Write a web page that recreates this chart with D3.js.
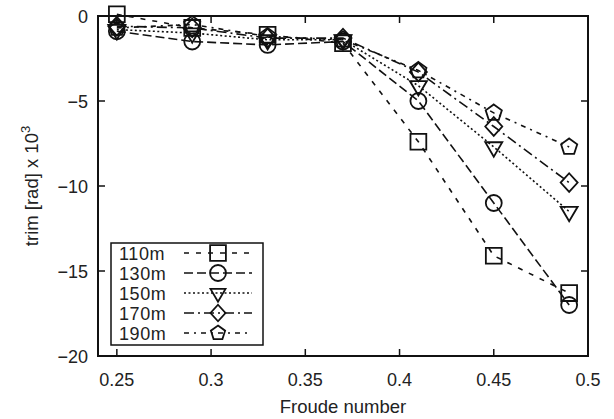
<!DOCTYPE html>
<html>
<head>
<meta charset="utf-8">
<script src="https://cdn.jsdelivr.net/npm/d3@7"></script>
<style>
body{margin:0;background:#fff;}
svg text{font-family:"Liberation Sans",Arial,sans-serif;fill:#222;}
</style>
</head>
<body>
<svg id="chart" width="614" height="419"></svg>
<script>
// Froude numbers and trim values (rad x 10^3) per ship length
const froude = [0.25, 0.29, 0.33, 0.37, 0.41, 0.45, 0.49];
const names = ["110m", "130m", "150m", "170m", "190m"];
const trim110 = [0.1, -0.7, -1.1, -1.6, -7.4, -14.1, -16.3];
const trim130 = [-0.9, -1.5, -1.7, -1.5, -5.0, -11.0, -17.0];
const trim150 = [-0.8, -1.0, -1.4, -1.4, -4.1, -7.7, -11.5];
const trim170 = [-0.6, -0.7, -1.3, -1.3, -3.3, -6.5, -9.8];
const trim190 = [-0.7, -0.5, -1.2, -1.4, -3.2, -5.7, -7.7];
const xTicks = [0.25, 0.3, 0.35, 0.4, 0.45, 0.5];
const yTicks = [0, -5, -10, -15, -20];

const series = [trim110, trim130, trim150, trim170, trim190];
const dashes = ["5,7", "9,4", "2,2.5", "10,4,2,4", "5,5,2,5"];

const m = {left: 98, right: 588, top: 16, bottom: 356};
const x = d3.scaleLinear().domain([0.24, 0.5]).range([m.left, m.right]);
const y = d3.scaleLinear().domain([-20, 0]).range([m.bottom, m.top]);

const svg = d3.select("#chart");

// gnuplot-like open point shapes
function markerPath(i, size) {
  if (i === 0) return d3.symbol(d3.symbolSquare, 250)();
  if (i === 1) return d3.symbol(d3.symbolCircle, 200)();
  if (i === 2) {
    const r = size * 1.0;
    return `M${-r},${-r * 0.55}L${r},${-r * 0.55}L0,${r * 1.15}Z`;
  }
  if (i === 3) return `M0,${-size * 1.1}L${size},0L0,${size * 1.1}L${-size},0Z`;
  const pts = d3.range(5).map(k => {
    const a = -Math.PI / 2 + k * 2 * Math.PI / 5;
    return [size * Math.cos(a), size * Math.sin(a)];
  });
  return "M" + pts.join("L") + "Z";
}

// ticks (inward, mirrored)
const tk = 7;
const g = svg.append("g").attr("stroke", "#111").attr("stroke-width", 1.5);
xTicks.forEach(t => {
  g.append("line").attr("x1", x(t)).attr("x2", x(t)).attr("y1", m.bottom).attr("y2", m.bottom - tk);
  g.append("line").attr("x1", x(t)).attr("x2", x(t)).attr("y1", m.top).attr("y2", m.top + tk);
});
yTicks.forEach(t => {
  g.append("line").attr("x1", m.left).attr("x2", m.left + tk).attr("y1", y(t)).attr("y2", y(t));
  g.append("line").attr("x1", m.right).attr("x2", m.right - tk).attr("y1", y(t)).attr("y2", y(t));
});

svg.selectAll(".xl").data(xTicks).enter().append("text")
  .attr("x", d => x(d)).attr("y", m.bottom + 30)
  .attr("text-anchor", "middle").attr("font-size", 18).text(d => d);
svg.selectAll(".yl").data(yTicks).enter().append("text")
  .attr("x", m.left - 10).attr("y", d => y(d) + 6.5)
  .attr("text-anchor", "end").attr("font-size", 18).text(d => d === 0 ? "0" : "\u2212" + Math.abs(d));

svg.append("text").attr("x", (m.left + m.right) / 2).attr("y", 413)
  .attr("text-anchor", "middle").attr("font-size", 18.5).text("Froude number");
const yt = svg.append("text").attr("transform", `translate(38,${(m.top + m.bottom) / 2}) rotate(-90)`)
  .attr("text-anchor", "middle").attr("font-size", 18.5);
yt.append("tspan").text("trim [rad] x 10");
yt.append("tspan").attr("dy", -8).attr("font-size", 13).text("3");

const line = d3.line().x((d, i) => x(froude[i])).y(d => y(d));

series.forEach((s, i) => {
  svg.append("path").attr("d", line(s)).attr("fill", "none")
    .attr("stroke", "#111").attr("stroke-width", 1.6).attr("stroke-dasharray", dashes[i]);
  svg.selectAll(".p" + i).data(s).enter().append("path")
    .attr("d", markerPath(i, 8.5))
    .attr("transform", (d, j) => `translate(${x(froude[j])},${y(d)})`)
    .attr("fill", "none").attr("stroke", "#111").attr("stroke-width", 1.8);
});

// legend
const lg = svg.append("g");
lg.append("rect").attr("x", 111).attr("y", 243).attr("width", 152).attr("height", 102)
  .attr("fill", "#fff").attr("stroke", "#111").attr("stroke-width", 1.5);
names.forEach((n, i) => {
  const ly = 253 + i * 20;
  lg.append("text").attr("x", 119).attr("y", ly + 6.5).attr("font-size", 18)
    .attr("letter-spacing", 0.6).text(n);
  lg.append("line").attr("x1", 184).attr("x2", 252).attr("y1", ly).attr("y2", ly)
    .attr("stroke", "#111").attr("stroke-width", 1.6).attr("stroke-dasharray", dashes[i]);
  lg.append("path").attr("d", markerPath(i, 7.5)).attr("transform", `translate(218,${ly})`)
    .attr("fill", "none").attr("stroke", "#111").attr("stroke-width", 1.8);
});

// frame
svg.append("rect").attr("x", m.left).attr("y", m.top)
  .attr("width", m.right - m.left).attr("height", m.bottom - m.top)
  .attr("fill", "none").attr("stroke", "#111").attr("stroke-width", 2);
</script>
</body>
</html>
